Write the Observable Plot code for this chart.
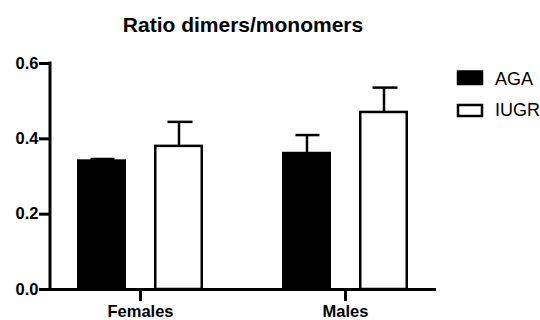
<!DOCTYPE html>
<html>
<head>
<meta charset="utf-8">
<script src="https://cdn.jsdelivr.net/npm/d3@7"></script>
<script src="https://cdn.jsdelivr.net/npm/@observablehq/plot@0.6"></script>
<style>
  html, body { margin: 0; padding: 0; background: #fff; }
  #chart svg { display: block; }
</style>
</head>
<body>
<div id="chart"></div>
<script>
const title = "Ratio dimers/monomers";
const sexes = ["Females", "Males"];
const groups = ["AGA", "IUGR"];
const agaMean = [0.341, 0.361];
const agaSem = [0.0055, 0.049];
const iugrMean = [0.380, 0.470];
const iugrSem = [0.065, 0.066];
const yTicks = [0, 0.2, 0.4, 0.6];

const aga = sexes.map((s, i) => ({sex: s, mean: agaMean[i], top: agaMean[i] + agaSem[i]}));
const iugr = sexes.map((s, i) => ({sex: s, mean: iugrMean[i], top: iugrMean[i] + iugrSem[i]}));

const font = "'Liberation Sans', Arial, sans-serif";
const sw = 2.5;

const plot = Plot.plot({
  width: 540,
  height: 320,
  marginLeft: 50,
  marginRight: 104,
  marginTop: 63,
  marginBottom: 31,
  style: {fontFamily: font, color: "#000", background: "#fff"},
  x: {domain: sexes, paddingInner: 0.3835, paddingOuter: 0.1287},
  y: {domain: [0, 0.6]},
  marks: [
    Plot.barY(aga, {x: "sex", y: "mean", fill: "#000", stroke: "#000", strokeWidth: sw, insetLeft: 1.25, insetRight: 78.25}),
    Plot.barY(iugr, {x: "sex", y: "mean", fill: "#fff", stroke: "#000", strokeWidth: sw, insetLeft: 78.25, insetRight: 1.25}),
    Plot.ruleX(aga, {x: "sex", y1: "mean", y2: "top", dx: -38.5, stroke: "#000", strokeWidth: sw}),
    Plot.ruleX(iugr, {x: "sex", y1: "mean", y2: "top", dx: 38.5, stroke: "#000", strokeWidth: sw}),
    Plot.tickY(aga, {x: "sex", y: "top", insetLeft: 13.5, insetRight: 88.5, stroke: "#000", strokeWidth: sw}),
    Plot.tickY(iugr, {x: "sex", y: "top", insetLeft: 90.5, insetRight: 10.5, stroke: "#000", strokeWidth: sw}),
    Plot.ruleY([0], {stroke: "#000", strokeWidth: 3}),
    Plot.ruleX(sexes, {x: d => d, y: 0, insetBottom: -12, stroke: "#000", strokeWidth: 3}),
    Plot.axisY({ticks: yTicks, tickFormat: d3.format(".1f"), tickSize: 11, tickPadding: 1, fontSize: 16.5, fontWeight: "bold", stroke: "#000", strokeWidth: 3, label: null}),
    Plot.axisX({tickSize: 0, tickPadding: 16, fontSize: 16.5, fontWeight: "bold", label: null})
  ]
});

document.getElementById("chart").appendChild(plot);

// y-axis line, title, legend
const svg = d3.select(plot);
const y = plot.scale("y");
svg.append("line")
  .attr("x1", 50).attr("x2", 50)
  .attr("y1", y.apply(0) + 1.5).attr("y2", y.apply(0.6) - 1.5)
  .attr("stroke", "#000").attr("stroke-width", 3);

svg.append("text")
  .attr("x", 243).attr("y", 31.5)
  .attr("text-anchor", "middle")
  .attr("font-family", font).attr("font-size", 21).attr("font-weight", "bold")
  .attr("fill", "#000")
  .text(title);

const leg = svg.append("g").attr("font-family", font).attr("font-size", 18).attr("text-anchor", "start");
groups.forEach((g, i) => {
  const yy = i === 0 ? 71.5 : 105;
  leg.append("rect")
    .attr("x", 458).attr("y", yy).attr("width", 24).attr("height", i === 0 ? 12.5 : 11)
    .attr("fill", i === 0 ? "#000" : "#fff")
    .attr("stroke", "#000").attr("stroke-width", sw);
  leg.append("text")
    .attr("x", 495).attr("y", i === 0 ? 84.5 : 115.5)
    .attr("text-anchor", "start")
    .attr("fill", "#000")
    .text(g);
});
</script>
</body>
</html>
